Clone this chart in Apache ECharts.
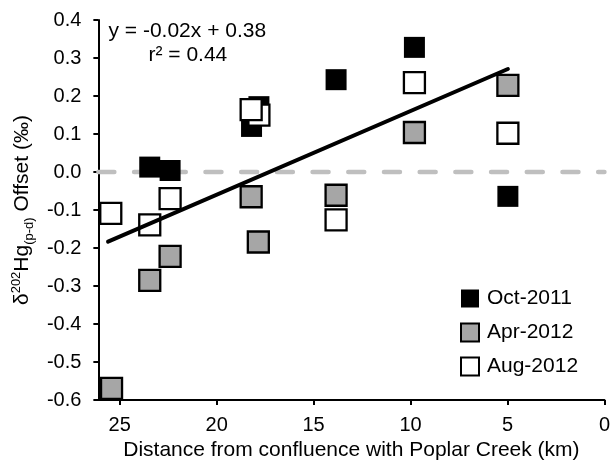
<!DOCTYPE html>
<html>
<head>
<meta charset="utf-8">
<script src="https://cdn.jsdelivr.net/npm/echarts@6/dist/echarts.min.js"></script>
<style>
html,body{margin:0;padding:0;background:#fff;}
#chart{width:613px;height:466px;}
</style>
</head>
<body>
<div id="chart"></div>
<script>
// ---- data ----
var seriesNames = ['Oct-2011', 'Apr-2012', 'Aug-2012'];
var oct2011 = [[23.45, 0.013], [22.4, 0.004], [18.2, 0.12], [17.82, 0.172], [13.84, 0.243], [9.8, 0.328], [4.98, -0.064]];
var apr2012 = [[25.42, -0.569], [23.45, -0.285], [22.4, -0.222], [18.22, -0.065], [17.85, -0.184], [13.84, -0.061], [9.8, 0.104], [4.98, 0.228]];
var aug2012 = [[25.46, -0.109], [23.45, -0.139], [22.4, -0.070], [17.82, 0.150], [18.22, 0.164], [13.84, -0.126], [9.8, 0.235], [4.98, 0.102]];
var trendLine = [[25.6, -0.183], [4.98, 0.271]];
var zeroLine = [[26.1, 0], [0, 0]];
var xTicks = [0, 5, 10, 15, 20, 25];
var equationText = 'y = -0.02x + 0.38';
var r2Text = 'r² = 0.44';

var FONT = 'Liberation Sans, Arial, sans-serif';
var chart = echarts.init(document.getElementById('chart'));
chart.setOption({
  animation: false,
  backgroundColor: '#fff',
  grid: { left: 90, right: 7, top: 20, bottom: 62.5, containLabel: false },
  xAxis: {
    type: 'value', inverse: true, min: 0, max: 26.1,
    splitLine: { show: false },
    axisLine: { show: true, onZero: false, lineStyle: { color: '#000', width: 2 } },
    axisTick: { show: true, inside: false, length: 5, lineStyle: { color: '#000', width: 2 }, customValues: xTicks },
    axisLabel: { color: '#000', fontSize: 20, fontFamily: FONT, margin: 15, customValues: xTicks },
    name: 'Distance from confluence with Poplar Creek (km)',
    nameLocation: 'middle', nameGap: 38,
    nameTextStyle: { color: '#000', fontSize: 21, fontFamily: FONT }
  },
  yAxis: {
    type: 'value', min: -0.6, max: 0.4, interval: 0.1,
    splitLine: { show: false },
    axisLine: { show: true, onZero: false, lineStyle: { color: '#000', width: 2 } },
    axisTick: { show: true, inside: false, length: 5, lineStyle: { color: '#000', width: 2 } },
    axisLabel: {
      color: '#000', fontSize: 20, fontFamily: FONT, margin: 17,
      formatter: function (v) { if (Math.abs(v) < 1e-9) v = 0; return v.toFixed(1); }
    },
    name: '{m|δ}{sup|202}{m|Hg}{sub|(p-d)}{m| Offset (‰)}',
    nameLocation: 'middle', nameGap: 56, nameRotate: 90,
    nameTextStyle: {
      color: '#000', fontFamily: FONT,
      rich: {
        m: { fontSize: 21, fontFamily: FONT, color: '#000', lineHeight: 28, verticalAlign: 'middle' },
        sup: { fontSize: 13, fontFamily: FONT, color: '#000', lineHeight: 28, verticalAlign: 'top', padding: [2, 0, 0, 0] },
        sub: { fontSize: 13, fontFamily: FONT, color: '#000', lineHeight: 28, verticalAlign: 'bottom', padding: [0, 0, 0, 0] }
      }
    }
  },
  legend: {
    data: seriesNames,
    orient: 'vertical', left: 455, top: 283,
    itemWidth: 18, itemHeight: 18, itemGap: 13,
    icon: 'rect',
    textStyle: { color: '#000', fontSize: 21, fontFamily: FONT, padding: [0, 0, 0, 3] }
  },
  graphic: [
    { type: 'text', left: 187.5 - 79, top: 21, style: { text: equationText, fontSize: 21, fontFamily: FONT, fill: '#000' } },
    { type: 'text', left: 187.5 - 39, top: 44.5, style: { text: r2Text, fontSize: 21, fontFamily: FONT, fill: '#000' } }
  ],
  series: [
    {
      type: 'line', data: zeroLine, symbol: 'none', z: 1, silent: true,
      lineStyle: { color: '#bfbfbf', width: 4.5, type: [16, 19.7], cap: 'round' }
    },
    {
      name: 'Oct-2011', type: 'scatter', data: oct2011, symbol: 'rect', symbolSize: 21, z: 2,
      itemStyle: { color: '#000', opacity: 1 }
    },
    {
      name: 'Apr-2012', type: 'scatter', data: apr2012, symbol: 'rect', symbolSize: 21, z: 3,
      itemStyle: { color: '#a6a6a6', borderColor: '#000', borderWidth: 2.3, opacity: 1 }
    },
    {
      name: 'Aug-2012', type: 'scatter', data: aug2012, symbol: 'rect', symbolSize: 21, z: 4,
      itemStyle: { color: '#fff', borderColor: '#000', borderWidth: 2.3, opacity: 1 }
    },
    {
      type: 'line', data: trendLine, symbol: 'none', z: 5, silent: true,
      lineStyle: { color: '#000', width: 4, cap: 'round' }
    }
  ]
});
</script>
</body>
</html>
